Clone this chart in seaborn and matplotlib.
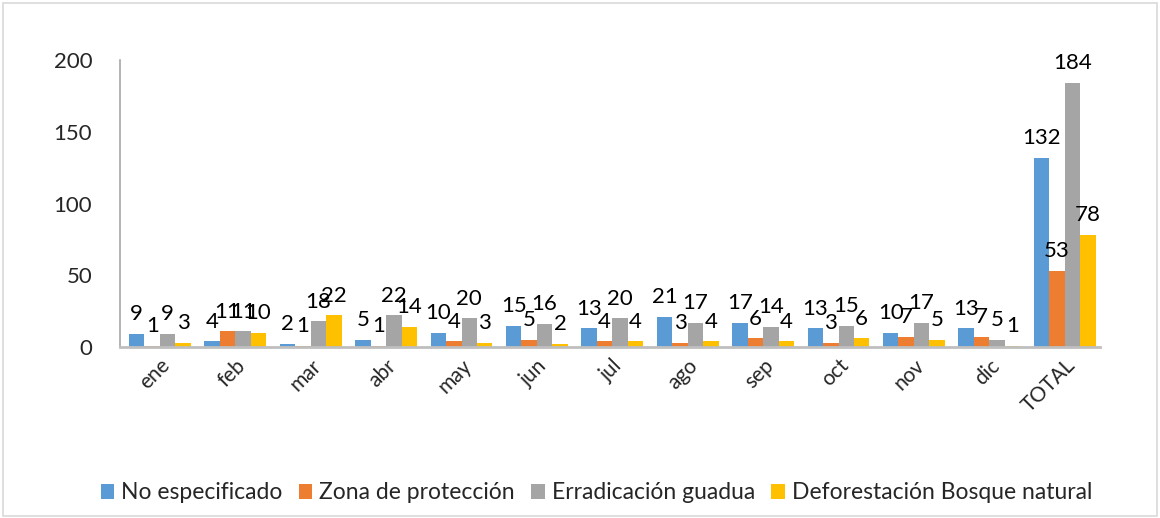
import pandas as pd
import matplotlib
matplotlib.use("Agg")
import matplotlib.pyplot as plt
import seaborn as sns
from matplotlib.patches import Rectangle

meses = ["ene", "feb", "mar", "abr", "may", "jun", "jul", "ago", "sep", "oct", "nov", "dic", "TOTAL"]
series = ["No especificado", "Zona de protección", "Erradicación guadua", "Deforestación Bosque natural"]
no_especificado = [9, 4, 2, 5, 10, 15, 13, 21, 17, 13, 10, 13, 132]
zona_proteccion = [1, 11, 1, 1, 4, 5, 4, 3, 6, 3, 7, 7, 53]
erradicacion = [9, 11, 18, 22, 20, 16, 20, 17, 14, 15, 17, 5, 184]
deforestacion = [3, 10, 22, 14, 3, 2, 4, 4, 4, 6, 5, 1, 78]
colores = ["#5B9BD5", "#ED7D31", "#A5A5A5", "#FFC000"]

# tabla larga para seaborn
filas = []
for nombre, valores in zip(series, [no_especificado, zona_proteccion, erradicacion, deforestacion]):
    for mes, v in zip(meses, valores):
        filas.append({"mes": mes, "serie": nombre, "valor": v})
df = pd.DataFrame(filas)

sns.set_style("white")
plt.rcParams["font.family"] = ["Lato", "DejaVu Sans"]

fig = plt.figure(figsize=(11.6, 5.18), dpi=100)
ax = fig.add_axes([0.1034, 0.330, 0.845, 0.554])

sns.barplot(data=df, x="mes", y="valor", hue="serie", palette=colores,
            width=0.82, saturation=1, ax=ax, edgecolor="none")

for cont in ax.containers:
    ax.bar_label(cont, fontsize=16, padding=7, color="black")

ax.set_ylim(0, 200)
ax.set_yticks([0, 50, 100, 150, 200])
ax.set_xlim(-0.53, 12.47)
ax.set_xlabel("")
ax.set_ylabel("")
ax.tick_params(axis="y", labelsize=16, length=0, pad=20)
ax.tick_params(axis="x", labelsize=15, length=0, pad=6)
plt.setp(ax.get_xticklabels(), rotation=45, ha="right", rotation_mode="anchor")

for s in ["top", "right"]:
    ax.spines[s].set_visible(False)
ax.spines["left"].set_color("#A6A6A6")
ax.spines["bottom"].set_color("#BFBFBF")
ax.spines["left"].set_linewidth(1.2)
ax.spines["bottom"].set_linewidth(2)

leg = ax.legend(loc="upper center", bbox_to_anchor=(0.486, -0.40), ncol=4, frameon=False,
                fontsize=16.5, handlelength=0.6, handleheight=0.6, handletextpad=0.3,
                columnspacing=0.7)

fig.patches.append(Rectangle((0.003, 0.004), 0.994, 0.99, transform=fig.transFigure,
                             fill=False, edgecolor="#D9D9D9", linewidth=1.2))

fig.savefig("out.png", dpi=100)
